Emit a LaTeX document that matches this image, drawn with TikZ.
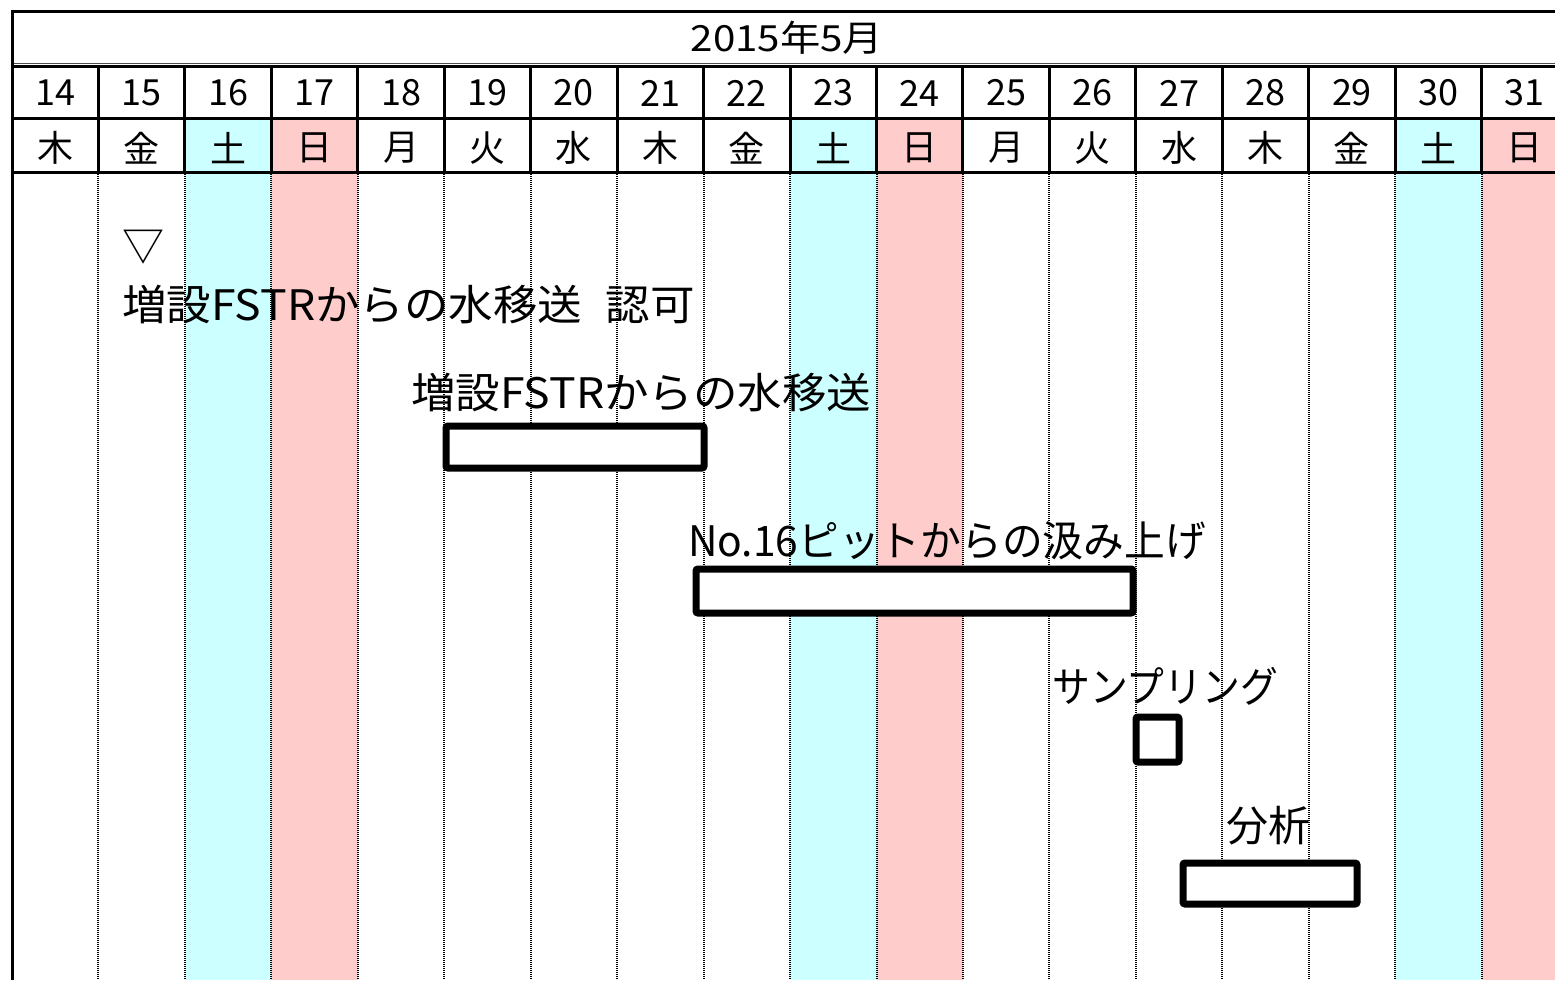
\documentclass[tikz,border=0pt]{standalone}
\usepackage{fontspec}
\setmainfont{Noto Sans CJK JP}
\definecolor{satc}{HTML}{CCFFFF}
\definecolor{sunc}{HTML}{FFCCCC}
\begin{document}
\begin{tikzpicture}[x=1pt,y=-1pt,
  hdr/.style={font=\fontsize{36}{42}\selectfont, inner sep=0pt},
  lbl/.style={font=\fontsize{42}{50}\selectfont, anchor=west, inner sep=0pt},
  taskbar/.style={draw=black, line width=7pt, fill=white, rounded corners=2pt},
  gridline/.style={line width=3pt},
  dotline/.style={line width=2pt, dash pattern=on 1pt off 1pt}]
\useasboundingbox[fill=white] (0,0) rectangle (1555,980);
\def\cw{86.45}
% weekend columns
\foreach \i/\c in {2/satc,3/sunc,9/satc,10/sunc,16/satc,17/sunc}{
  \fill[\c] ({12+\i*\cw},118) rectangle ({12+(\i+1)*\cw},980);
}
% body dotted lines and header verticals
\foreach \i in {1,...,17}{
  \draw[dotline] ({12+\i*\cw},172) -- ({12+\i*\cw},980);
  \draw[gridline] ({12+\i*\cw},65) -- ({12+\i*\cw},172);
}
% horizontal grid
\draw[gridline] (12,11) -- (1555,11);
\draw[line width=1pt, black!70] (12,63) -- (1555,63);
\draw[gridline] (12,66) -- (1555,66);
\draw[gridline] (12,118) -- (1555,118);
\draw[gridline] (12,172) -- (1555,172);
\draw[gridline] (12,9.5) -- (12,980);
% header
\node[hdr] (title) at (787,38) {\scalebox{1.12}[1]{2015年5月}};
\foreach \i [evaluate=\i as \d using int(14+\i)] in {0,...,17}
  \node[hdr] (d\i) at ({12+(\i+0.5)*\cw},93) {\d};
\foreach \w [count=\i from 0] in {木,金,土,日,月,火,水,木,金,土,日,月,火,水,木,金,土,日}
  \node[hdr] (w\i) at ({12+(\i+0.5)*\cw},148) {\w};
% tasks
\node[lbl] (m1) at (122,247) {▽};
\node[lbl] (t1) at (122,305) {\scalebox{1.06}[1]{増設FSTRからの水移送\hspace{22pt}認可}};
\node[lbl] (t2) at (411,393) {\scalebox{1.06}[1]{増設FSTRからの水移送}};
\draw[taskbar] (446,426) rectangle (704,468);
\node[lbl] (t3) at (688,541) {\scalebox{0.97}[1]{No.16ピットからの汲み上げ}};
\draw[taskbar] (696,569) rectangle (1133,613);
\node[lbl] (t4) at (1052,686) {\scalebox{0.9}[1]{サンプリング}};
\draw[taskbar] (1136,717) rectangle (1179,762);
\node[lbl] (t5) at (1226,826) {分析};
\draw[taskbar] (1183,863) rectangle (1357,904);
\end{tikzpicture}
\end{document}
